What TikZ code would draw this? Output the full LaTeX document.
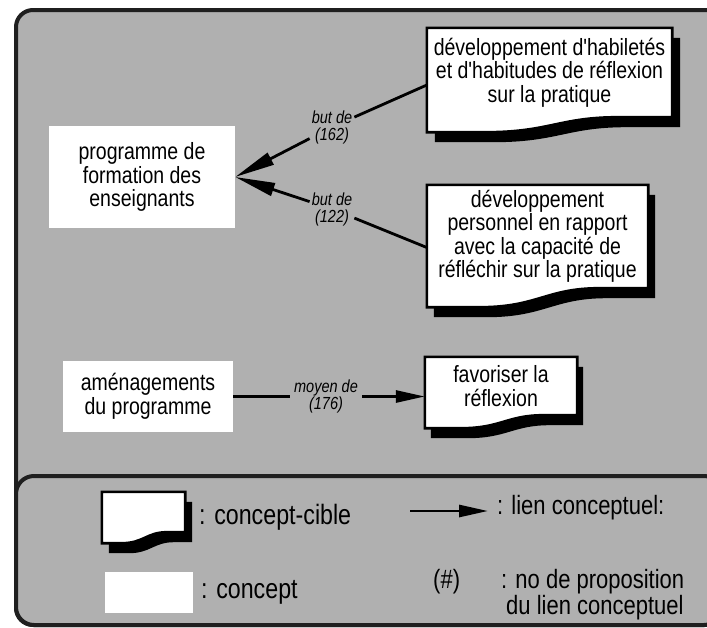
\documentclass[tikz,border=0pt]{standalone}
\usepackage{fontspec}
\setmainfont[FakeStretch=0.83, Ligatures=TeXOff]{Liberation Sans}
\usetikzlibrary{arrows.meta,calc}

\pgfdeclarelayer{shapes}
\pgfsetlayers{shapes,main}

\definecolor{panelgrey}{gray}{0.69}
\definecolor{rim}{gray}{0.12}

% target concept: white sheet with a wavy lower edge and a black drop shadow
% #1 node name, #2 extra depth of the wave on the left, #3/#4 shadow offset
\newcommand\cibleshape[4]{%
  \begin{pgfonlayer}{shapes}
    \fill[black, transform canvas={shift={(#3pt,-#4pt)}}]
      (#1.north west) -- (#1.north east) -- (#1.south east)
      -- ($(#1.south east)!0.22!(#1.south west)$)
      .. controls ($(#1.south east)!0.46!(#1.south west)$)
         and ($(#1.south east)!0.5!(#1.south west)+(0,#2)$)
      .. ($(#1.south east)!0.76!(#1.south west)+(0,#2)$)
      -- ($(#1.south west)+(0,#2)$) -- cycle;
    \filldraw[fill=white, draw=black, line width=2.6pt, line join=miter]
      (#1.north west) -- (#1.north east) -- (#1.south east)
      -- ($(#1.south east)!0.22!(#1.south west)$)
      .. controls ($(#1.south east)!0.46!(#1.south west)$)
         and ($(#1.south east)!0.5!(#1.south west)+(0,#2)$)
      .. ($(#1.south east)!0.76!(#1.south west)+(0,#2)$)
      -- ($(#1.south west)+(0,#2)$) -- cycle;
  \end{pgfonlayer}}

\begin{document}
\begin{tikzpicture}[x=1pt, y=-1pt,
  nodefont/.style={font=\fontsize{23.5}{23.5}\selectfont},
  concept/.style={nodefont, fill=white, inner sep=0pt, align=center},
  cible/.style={nodefont, inner sep=0pt, align=center},
  linklabel/.style={font=\itshape\fontsize{17.5}{17}\selectfont, align=center, inner sep=2pt},
  legendtext/.style={font=\fontsize{26.5}{26}\selectfont, inner sep=0pt, anchor=west, align=left},
  legendbig/.style={legendtext, font=\fontsize{28}{26}\selectfont},
  link/.style={draw=black, line width=2.8pt},
  bighead/.style={-{Triangle[length=40pt,width=13pt]}},
  smallhead/.style={-{Triangle[length=29pt,width=12pt]}}]

\useasboundingbox (0,0) rectangle (707,627);

% panels
\begin{pgfonlayer}{shapes}
  \begin{scope}
    \clip (0,0) rectangle (707,627);
    \filldraw[fill=panelgrey, draw=rim, line width=4pt, rounded corners=17pt]
      (16,10) rectangle (722,625);
    \filldraw[fill=panelgrey, draw=rim, line width=4pt, rounded corners=18pt]
      (16,476) rectangle (722,625);
  \end{scope}
\end{pgfonlayer}

% concepts
\node[concept, minimum width=186pt, minimum height=102pt] (prog) at (142,177)
  {programme de\\formation des\\enseignants};
\node[concept, minimum width=170pt, minimum height=71pt] (amen) at (148,396.5)
  {aménagements\\du programme};

% target concepts
\node[cible, minimum width=245pt, minimum height=89pt] (hab) at (549.5,72.5)
  {développement d'habiletés\\et d'habitudes de réflexion\\sur la pratique};
\cibleshape{hab}{15}{8}{10}
\node[cible, minimum width=221pt, minimum height=103pt] (perso) at (537.5,236.5)
  {développement\\personnel en rapport\\avec la capacité de\\réfléchir sur la pratique};
\cibleshape{perso}{19}{7}{10}
\node[cible, minimum width=152pt, minimum height=58pt] (fav) at (501,386)
  {favoriser la\\réflexion};
\cibleshape{fav}{13}{6}{10}

% link labels
\node[linklabel] (l162) at (332,127) {but de\\(162)};
\node[linklabel] (l122) at (332,209) {but de\\(122)};
\node[linklabel, inner xsep=4pt] (l176) at (326,396.5) {moyen de\\(176)};

% links
\draw[link] ($(hab.north west)!0.64!(hab.south west)$) -- (l162);
\draw[link, bighead] (l162) -- (prog.east);
\draw[link] ($(perso.west)+(0,11)$) -- (l122);
\draw[link, bighead] (l122) -- (prog.east);
\draw[link] (amen.east) -- (l176);
\draw[link, smallhead] (l176) -- (amen.east -| fav.west);

% legend
\node[cible, minimum width=83pt, minimum height=40pt] (lcible) at (143.5,512) {};
\cibleshape{lcible}{11}{7}{10}
\node[legendbig] (tcible) at (199,517) {: concept-cible};
\node[concept, minimum width=88pt, minimum height=41pt] (lconcept) at (149,592.5) {};
\node[legendbig] (tconcept) at (201,592) {: concept};

\coordinate (lienA) at (410,511);
\coordinate (lienB) at (488,511);
\draw[link, smallhead] (lienA) -- (lienB);
\node[legendtext] (tlien) at (497,508) {: lien conceptuel:};

\node[legendtext] (tdiese) at (433,582) {(\#)};
\node[legendtext] (tprop) at (501,595)
  {: no de proposition\\\hspace*{5pt}du lien conceptuel};

\end{tikzpicture}
\end{document}
